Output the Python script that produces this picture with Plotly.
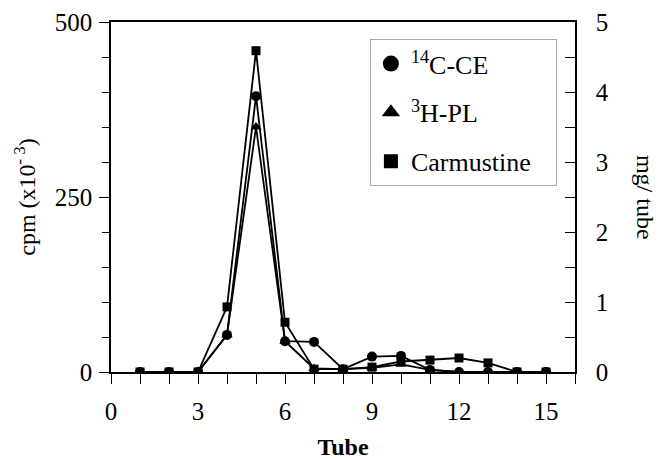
import plotly.graph_objects as go

tubes = [1, 2, 3, 4, 5, 6, 7, 8, 9, 10, 11, 12, 13, 14, 15]
ce_cpm = [0, 0, 0, 53, 394, 44, 43, 4, 22, 23, 3, 0, 0, 0, 0]
pl_cpm = [0, 0, 0, 53, 350, 44, 5, 4, 6, 11, 3, 0, 0, 0, 0]
carm_mg = [0, 0, 0, 0.93, 4.59, 0.71, 0.04, 0.04, 0.07, 0.15, 0.17, 0.20, 0.13, 0.0, 0.0]

series_names = ["<sup>14</sup>C-CE", "<sup>3</sup>H-PL", "Carmustine\u00a0\u00a0\u00a0"]
left_ticks = [0, 250, 500]
right_ticks = [0, 1, 2, 3, 4, 5]
x_ticks = [0, 3, 6, 9, 12, 15]

FONT = "Liberation Serif"
line = dict(color="black", width=1.8)

fig = go.Figure()
specs = [(ce_cpm, "y", "circle", 10), (pl_cpm, "y", "triangle-up", 10), (carm_mg, "y2", "square", 9)]
legend_sizes = [17, 16, 14]
for i, (vals, ax, sym, sz) in enumerate(specs):
    fig.add_trace(go.Scatter(x=tubes, y=vals, mode="lines+markers", name=series_names[i],
                             showlegend=False, line=line, yaxis=ax,
                             marker=dict(symbol=sym, size=sz, color="black")))
# legend-only entries (markers only): drawn on a hidden x axis whose range excludes the data
for i, (vals, ax, sym, sz) in enumerate(specs):
    fig.add_trace(go.Scatter(x=tubes, y=vals, mode="markers", name=series_names[i],
                             legendgroup=str(i), xaxis="x2", yaxis="y",
                             hoverinfo="skip",
                             marker=dict(symbol=sym, size=legend_sizes[i], color="black")))

fig.update_layout(
    width=661, height=460,
    margin=dict(l=111, r=86, t=22, b=88),
    paper_bgcolor="white", plot_bgcolor="white",
    font=dict(family=FONT, size=24, color="black"),
    showlegend=True,
    legend=dict(x=0.558, y=0.951, xanchor="left", yanchor="top",
                bordercolor="#aaaaaa", borderwidth=1, bgcolor="white",
                font=dict(size=26, family=FONT, color="black"), tracegroupgap=12,
                itemsizing="trace", itemclick=False, itemdoubleclick=False),
    xaxis=dict(range=[0, 16], tickvals=x_ticks, ticks="outside", ticklen=10,
               tickwidth=1.2, tickcolor="black", showline=True, linecolor="black",
               linewidth=1.6, mirror=True, showgrid=False, zeroline=False,
               automargin=False, ticklabelstandoff=6,
               minor=dict(dtick=1, ticks="outside", ticklen=10, tickcolor="black"),
               tickfont=dict(size=25),
               title=dict(text="<b>Tube</b>", font=dict(size=24), standoff=24)),
    xaxis2=dict(range=[1000, 1001], overlaying="x", visible=False, automargin=False),
    yaxis=dict(range=[0, 500], tickvals=left_ticks, ticks="outside", ticklen=10,
               tickwidth=1.2, tickcolor="black", showline=True, linecolor="black",
               linewidth=1.6, showgrid=False, zeroline=False, automargin=False,
               minor=dict(dtick=50, ticks="outside", ticklen=7, tickcolor="black"),
               tickfont=dict(size=25), ticklabelstandoff=2,
               title=dict(text="cpm (x10<sup>- 3</sup>)", font=dict(size=24), standoff=12)),
    yaxis2=dict(range=[0, 5], tickvals=right_ticks, overlaying="y", side="right",
                ticks="inside", ticklen=10, tickwidth=1.2, tickcolor="black",
                showline=True, linecolor="black", linewidth=1.6, showgrid=False,
                zeroline=False, automargin=False,
                minor=dict(dtick=0.5, ticks="inside", ticklen=10, tickcolor="black"),
                tickfont=dict(size=25), ticklabelstandoff=14),
)

fig.add_annotation(text="mg/ tube", textangle=90, xref="paper", yref="paper",
                   x=1.151, y=0.5, xanchor="center", yanchor="middle",
                   showarrow=False, font=dict(size=24, family=FONT))

fig.write_html("out.html")
